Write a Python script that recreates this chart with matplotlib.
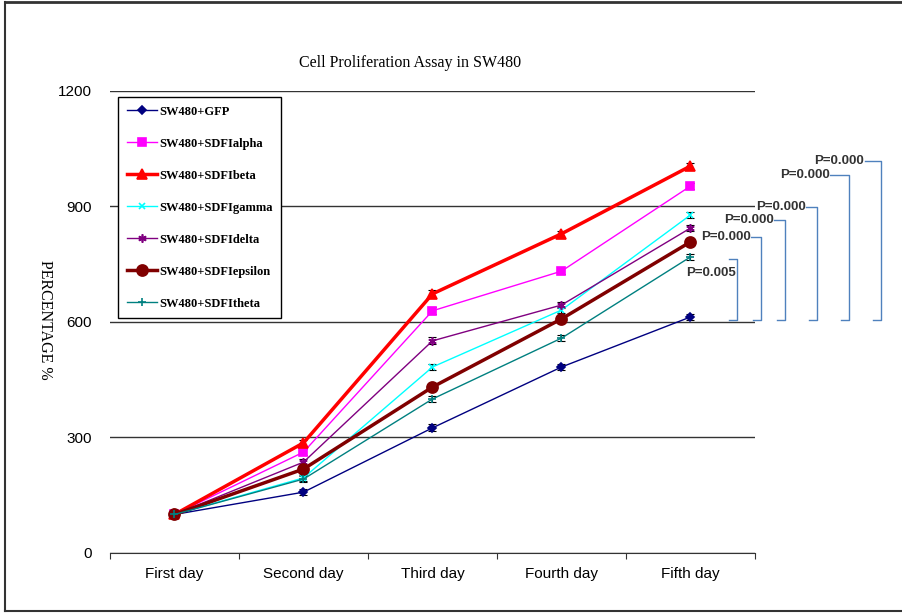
import numpy as np
import matplotlib.pyplot as plt
from matplotlib.lines import Line2D

days = ["First day", "Second day", "Third day", "Fourth day", "Fifth day"]

gfp = [100, 158, 325, 483, 613]
alpha = [100, 262, 629, 732, 953]
beta = [100, 286, 673, 829, 1005]
gamma = [100, 195, 483, 631, 878]
delta = [100, 236, 551, 644, 844]
epsilon = [100, 218, 431, 608, 808]
theta = [100, 192, 400, 558, 769]

err = [4, 8, 9, 8, 8]

# significance brackets vs GFP on day five
p_labels = ["P=0.005", "P=0.000", "P=0.000", "P=0.000", "P=0.000", "P=0.000"]
p_top = [763, 821, 865, 899, 982, 1018]
p_bottom = 606

series = [
    ("SW480+GFP", gfp, "#000080", "D", 1.0, 4),
    ("SW480+SDFIalpha", alpha, "#FF00FF", "s", 1.0, 6),
    ("SW480+SDFIbeta", beta, "#FF0000", "^", 2.5, 7),
    ("SW480+SDFIgamma", gamma, "#00FFFF", "x", 1.0, 5),
    ("SW480+SDFIdelta", delta, "#800080", (6, 2, 0), 1.0, 6),
    ("SW480+SDFIepsilon", epsilon, "#800000", "o", 2.5, 8),
    ("SW480+SDFItheta", theta, "#008080", "+", 1.0, 6),
]

fig = plt.figure(figsize=(9.03, 6.13), dpi=100)
ax = fig.add_axes([0.1218, 0.0979, 0.7143, 0.7537])

x = np.arange(len(days))
handles = []
for name, vals, color, marker, lw, ms in series:
    ax.errorbar(x, vals, yerr=err, fmt="none", ecolor="black", elinewidth=0.8,
                capsize=3, capthick=0.8, zorder=2)
    ax.plot(x, vals, color=color, marker=marker, lw=lw, ms=ms,
            mec=color, mfc=color, mew=1.2, zorder=3)
    handles.append(Line2D([], [], color=color, marker=marker, lw=lw, ms=ms,
                          mec=color, mfc=color, mew=1.2, label=name))

ax.set_xlim(-0.5, 4.5)
ax.set_ylim(0, 1200)
ax.set_yticks([0, 300, 600, 900, 1200])
ax.set_yticklabels(["0", "300", "600", "900", "1200"], family="Liberation Sans", fontsize=11)
ax.tick_params(axis="y", length=0, pad=13)
ax.grid(axis="y", color="#333333", lw=1)
ax.set_axisbelow(True)

ax.set_xticks(np.arange(-0.5, 5, 1))
ax.set_xticklabels([])
ax.tick_params(axis="x", which="major", length=4, direction="out", color="#333333")
ax.set_xticks(x, minor=True)
ax.set_xticklabels(days, minor=True, family="Liberation Sans", fontsize=11)
ax.tick_params(axis="x", which="minor", length=0, pad=10)

for side in ["left", "right", "top"]:
    ax.spines[side].set_visible(False)
ax.spines["bottom"].set_color("#333333")

# P-value brackets drawn past the right edge of the axes
bx = [4.357, 4.55, 4.729, 4.984, 5.225, 5.473]
top_tick = [0.062, 0.078, 0.078, 0.085, 0.14, 0.124]
for i, (lab, yt) in enumerate(zip(p_labels, p_top)):
    xr = bx[i]
    ax.plot([xr - top_tick[i], xr, xr, xr - 0.062], [yt, yt, p_bottom, p_bottom],
            color="#4F81BD", lw=1, clip_on=False)
    if i == 0:
        ax.text(xr - 0.005, yt - 36, lab, ha="right", va="center", fontsize=9.5,
                family="Liberation Sans", weight="bold", color="#333333")
    else:
        ax.text(xr - top_tick[i] - 0.005, yt, lab, ha="right", va="center", fontsize=9.5,
                family="Liberation Sans", weight="bold", color="#333333")

leg = ax.legend(handles=handles, loc="upper left", bbox_to_anchor=(0.0124, 0.987),
                borderaxespad=0, frameon=True, fancybox=False, edgecolor="black",
                framealpha=1, handlelength=2.4, labelspacing=1.6, borderpad=0.7,
                handletextpad=0.2,
                prop={"family": "Liberation Serif", "weight": "bold", "size": 9})
leg.get_frame().set_linewidth(1)

fig.text(0.454, 0.897, "Cell Proliferation Assay in SW480", ha="center", va="center",
         family="Liberation Serif", fontsize=11.5)
fig.text(0.05, 0.478, "PERCENTAGE %", rotation=270, ha="center", va="center",
         family="Liberation Serif", fontsize=11.5)

# outer frame (left, top, bottom)
fig.add_artist(Line2D([0.005, 0.005], [0.003, 0.996], color="#333333", lw=1.5))
fig.add_artist(Line2D([0.005, 1.0], [0.996, 0.996], color="#333333", lw=2))
fig.add_artist(Line2D([0.005, 1.0], [0.003, 0.003], color="#333333", lw=1.5))

fig.savefig("out.png", dpi=100)
